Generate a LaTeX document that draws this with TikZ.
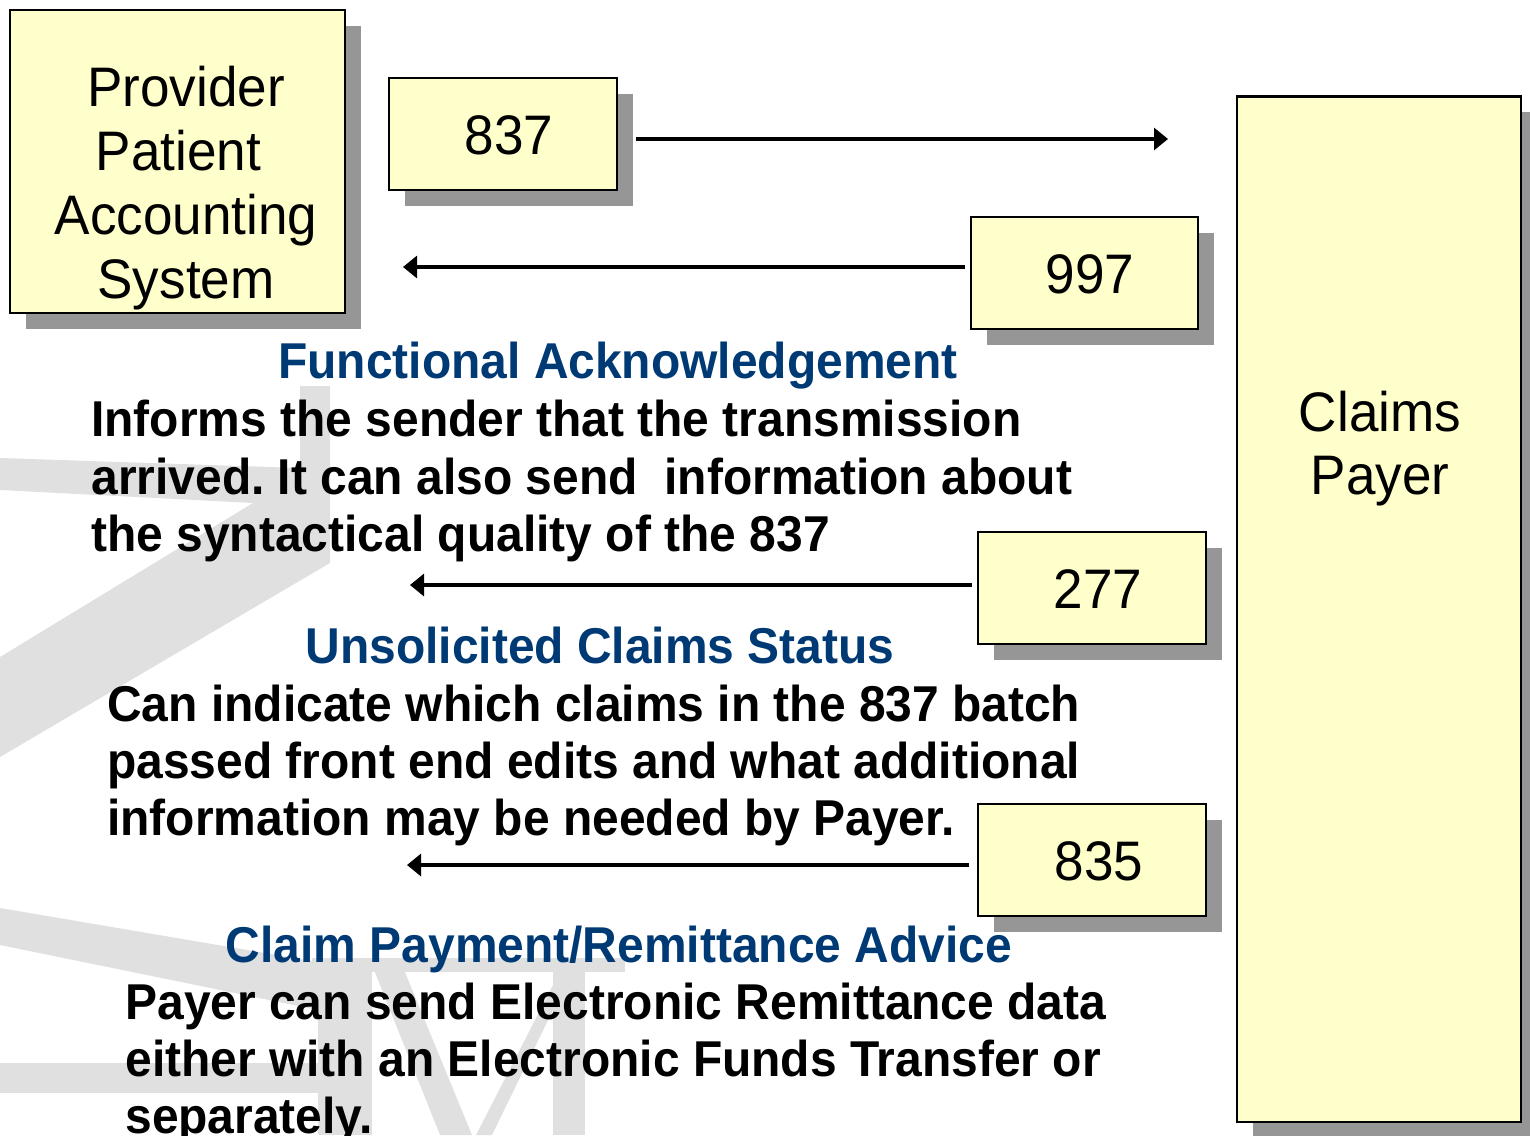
\documentclass[tikz,border=0pt]{standalone}
\usepackage{fontspec}
\usepackage{graphicx}
\setmainfont{Liberation Sans}
\frenchspacing
\usetikzlibrary{arrows.meta,shadows}
\definecolor{boxyellow}{RGB}{255,255,204}
\definecolor{shadowgray}{RGB}{150,150,150}
\definecolor{headblue}{RGB}{0,58,117}
\definecolor{wmgray}{RGB}{224,224,224}
\newcommand{\talltxt}[1]{\scalebox{1}[1.05]{#1}}
\tikzset{
  box/.style={draw=black, fill=boxyellow, line width=1.2pt, inner sep=0pt,
    drop shadow={shadow xshift=0.32cm, shadow yshift=-0.32cm, opacity=1, fill=shadowgray}},
  smallbox/.style={box, minimum width=4.56cm, minimum height=2.24cm},
  boxtxt/.style={font=\fontsize{30.2}{36}\selectfont, inner sep=0pt, anchor=base},
  body/.style={font=\bfseries\fontsize{27.3}{33}\selectfont, inner sep=0pt, anchor=base west},
  head/.style={font=\bfseries\fontsize{27.3}{32}\selectfont, text=headblue, inner sep=0pt, anchor=base},
  arr/.style={line width=1.8pt, -{Triangle[length=0.28cm, width=0.44cm]}},
  wm/.style={fill=wmgray, draw=none}
}
\begin{document}
\begin{tikzpicture}[x=0.02cm, y=-0.02cm]
\useasboundingbox (0,0) rectangle (1530,1135);
\clip (0,0) rectangle (1530,1135);
% watermark
\fill[wm] (0,458) -- (300,468) -- (300,386) -- (330,386) -- (330,563)
  -- (0,757) -- (0,657) -- (253,503) -- (0,490) -- cycle;
\fill[wm] (0,908) -- (318,962) -- (318,1010) -- (0,945) -- cycle;
\fill[wm] (312,958) -- (625,958) -- (625,972) -- (312,972) -- cycle;
\fill[wm] (318,958) -- (372,958) -- (372,1135) -- (318,1135) -- cycle;
\fill[wm] (372,965) -- (402,965) -- (472,1135) -- (440,1135) -- cycle;
\fill[wm] (553,985) -- (553,1010) -- (492,1135) -- (476,1135) -- cycle;
\fill[wm] (553,958) -- (585,958) -- (585,1135) -- (553,1135) -- cycle;
\fill[wm] (0,1063) -- (318,1063) -- (318,1093) -- (0,1093) -- cycle;

% boxes
\node[box, minimum width=6.7cm, minimum height=6.06cm] (prov) at (177.5,161.5) {};
\node[boxtxt] (provA) at (186,107) {\talltxt{Provider}};
\node[boxtxt] (provB) at (178.5,171) {\talltxt{Patient}};
\node[boxtxt] (provC) at (186,235) {\talltxt{Accounting}};
\node[boxtxt] (provD) at (186,298) {\talltxt{System}};

\node[smallbox] (b837) at (503,134) {};
\node[boxtxt] (t837txt) at (509,155) {\talltxt{837}};

\node[box, minimum width=4.54cm, minimum height=2.24cm] (b997) at (1084.5,273) {};
\node[boxtxt] (t997txt) at (1090,293) {\talltxt{997}};

\node[box, line width=1.6pt, minimum width=5.68cm, minimum height=20.52cm] (payer) at (1379,609) {};
\node[boxtxt] (payerA) at (1380,431) {\talltxt{Claims}};
\node[boxtxt] (payerB) at (1380,494) {\talltxt{Payer}};

\node[smallbox] (b277) at (1092,588) {};
\node[boxtxt] (t277txt) at (1098,608) {\talltxt{277}};

\node[smallbox] (b835) at (1092,860) {};
\node[boxtxt] (t835txt) at (1099,880) {\talltxt{835}};

% connectors
\coordinate (e837) at (1168,139);
\coordinate (e997) at (403,267);
\coordinate (e277) at (410,585);
\coordinate (e835) at (407,865);
\draw[arr] (b837.east) ++(18,5) -- (e837);
\draw[arr] (b997.west) ++(-5,-6) -- (e997);
\draw[arr] (b277.west) ++(-5,-3) -- (e277);
\draw[arr] (b835.west) ++(-8,5) -- (e835);

% texts
\node[head] (h1) at (618,378) {\talltxt{Functional Acknowledgement}};
\node[body] (f1) at (91,436) {\talltxt{Informs the sender that the transmission}};
\node[body] (f2) at (91,494) {\talltxt{arrived. It can also send\ \ information about}};
\node[body] (f3) at (91,551) {\talltxt{the syntactical quality of the 837}};

\node[head] (h2) at (600,663) {\talltxt{Unsolicited Claims Status}};
\node[body] (u1) at (107,721) {\talltxt{Can indicate which claims in the 837 batch}};
\node[body] (u2) at (107,778) {\talltxt{passed front end edits and what additional}};
\node[body] (u3) at (107,835) {\talltxt{information may be needed by Payer.}};

\node[head] (h3) at (619,962) {\talltxt{Claim Payment/Remittance Advice}};
\node[body] (c1) at (125,1019) {\talltxt{Payer can send Electronic Remittance data}};
\node[body] (c2) at (125,1076) {\talltxt{either with an Electronic Funds Transfer or}};
\node[body] (c3) at (125,1133) {\talltxt{separately.}};
\end{tikzpicture}
\end{document}
